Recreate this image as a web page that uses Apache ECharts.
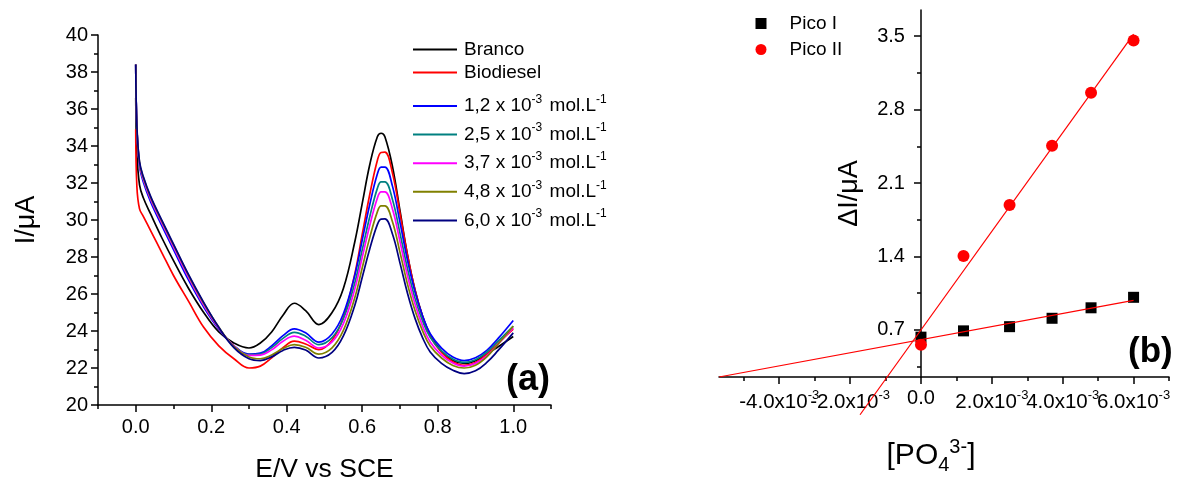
<!DOCTYPE html>
<html>
<head>
<meta charset="utf-8">
<script src="https://cdn.jsdelivr.net/npm/echarts@6/dist/echarts.min.js"></script>
<style>html,body{margin:0;padding:0;background:#fff}#c{width:1177px;height:478px}</style>
</head>
<body>
<div id="c"></div>
<script>
// ---------- panel (a): voltammograms ----------
const potentials = [0, 0.003, 0.01, 0.02, 0.04, 0.07, 0.1, 0.14, 0.18, 0.22, 0.26, 0.3, 0.33, 0.36, 0.39, 0.42, 0.45, 0.485, 0.52, 0.55, 0.58, 0.6, 0.62, 0.64, 0.65, 0.66, 0.68, 0.7, 0.72, 0.74, 0.76, 0.78, 0.81, 0.84, 0.87, 0.9, 0.93, 0.96, 1.0];
const branco = [36.6, 33.6, 31.9, 31.2, 30.3, 29.0, 27.8, 26.3, 25.0, 23.95, 23.35, 23.08, 23.35, 23.95, 24.85, 25.5, 25.1, 24.35, 25.0, 26.3, 28.8, 30.9, 33.0, 34.5, 34.69, 34.5, 32.9, 30.5, 28.1, 26.2, 24.8, 23.8, 22.9, 22.4, 22.25, 22.4, 22.75, 23.15, 23.7];
const biodiesel = [34.9, 31.8, 30.6, 30.2, 29.4, 28.2, 27.0, 25.6, 24.2, 23.2, 22.5, 22.0, 22.1, 22.55, 23.1, 23.45, 23.3, 22.99, 23.5, 24.74, 27.06, 29.23, 31.39, 33.22, 33.65, 33.67, 32.54, 30.36, 28.08, 26.19, 24.75, 23.71, 22.84, 22.34, 22.15, 22.3, 22.75, 23.35, 24.1];
const conc12 = [38.4, 35.0, 32.9, 32.05, 30.95, 29.65, 28.4, 26.75, 25.3, 24.1, 23.2, 22.75, 22.8, 23.2, 23.75, 24.12, 23.9, 23.4, 23.84, 24.93, 26.99, 28.92, 30.85, 32.48, 32.86, 32.86, 31.83, 29.87, 27.81, 26.1, 24.8, 23.85, 23.07, 22.59, 22.4, 22.55, 22.95, 23.6, 24.57];
const conc25 = [38.4, 35.0, 33.0, 32.2, 31.1, 29.8, 28.55, 26.9, 25.4, 24.15, 23.2, 22.72, 22.75, 23.1, 23.6, 23.93, 23.72, 23.26, 23.64, 24.66, 26.58, 28.39, 30.19, 31.71, 32.06, 32.06, 31.11, 29.28, 27.35, 25.75, 24.53, 23.66, 22.92, 22.48, 22.3, 22.45, 22.85, 23.45, 24.26];
const conc37 = [38.4, 35.0, 33.0, 32.2, 31.1, 29.8, 28.55, 26.9, 25.4, 24.15, 23.2, 22.68, 22.7, 22.98, 23.45, 23.72, 23.5, 23.08, 23.41, 24.4, 26.25, 27.99, 29.72, 31.18, 31.52, 31.52, 30.6, 28.83, 26.98, 25.44, 24.26, 23.41, 22.7, 22.27, 22.1, 22.25, 22.65, 23.3, 24.17];
const conc48 = [38.4, 35.0, 33.1, 32.3, 31.2, 29.9, 28.65, 27.0, 25.5, 24.2, 23.15, 22.6, 22.5, 22.7, 23.05, 23.26, 23.12, 22.75, 23.09, 24.03, 25.78, 27.42, 29.06, 30.44, 30.76, 30.76, 29.91, 28.25, 26.52, 25.09, 23.99, 23.19, 22.54, 22.14, 22.0, 22.15, 22.6, 23.3, 24.26];
const conc60 = [38.4, 35.1, 33.15, 32.35, 31.25, 29.95, 28.7, 27.05, 25.55, 24.2, 23.1, 22.5, 22.4, 22.6, 22.95, 23.12, 22.97, 22.54, 22.84, 23.73, 25.37, 26.91, 28.45, 29.75, 30.05, 30.06, 29.24, 27.67, 26.03, 24.67, 23.63, 22.87, 22.25, 21.88, 21.7, 21.85, 22.3, 22.95, 23.9];
const curveNames = ['Branco', 'Biodiesel', '1,2 x 10-3 mol.L-1', '2,5 x 10-3 mol.L-1', '3,7 x 10-3 mol.L-1', '4,8 x 10-3 mol.L-1', '6,0 x 10-3 mol.L-1'];
const curveColors = ['#000000', '#ff0000', '#0000ff', '#008080', '#ff00ff', '#808000', '#000080'];
const curves = [branco, biodiesel, conc12, conc25, conc37, conc48, conc60];
const voltMajor = [0, 0.2, 0.4, 0.6, 0.8, 1.0];
const voltMinor = [-0.1, 0.1, 0.3, 0.5, 0.7, 0.9, 1.1];

// ---------- panel (b): calibration ----------
const concentrations = [0, 0.0012, 0.0025, 0.0037, 0.0048, 0.006];
const picoI = [0.63, 0.69, 0.73, 0.81, 0.91, 1.01];
const picoII = [0.557, 1.405, 1.89, 2.455, 2.96, 3.46];
const fitIx = [-0.0057, 0.006];
const fitIy = [0.25, 0.98];
const fitIIx = [-0.00172, 0.006];
const fitIIy = [-0.11, 3.52];
const concMin = -0.0057, concMax = 0.007;
const concMajor = [-0.004, -0.002, 0, 0.002, 0.004, 0.006];
const concMinor = [-0.005, -0.003, -0.001, 0.001, 0.003, 0.005, 0.007];
const dIMajor = [0.7, 1.4, 2.1, 2.8, 3.5];
const dIMinor = [0.35, 1.05, 1.75, 2.45, 3.15];

const FONT = '"Liberation Sans", Arial, sans-serif';
const AX = { color: '#000', width: 1.5 };
const G2 = { left: 719, top: 10, width: 450, height: 367 };
// the y axis of panel (b) crosses the x axis at 0
const yOffsetB = -G2.width * (0 - concMin) / (concMax - concMin);

const chart = echarts.init(document.getElementById('c'), null, { renderer: 'canvas' });

const series = [];
curves.forEach((arr, k) => {
  series.push({
    name: curveNames[k], type: 'line', xAxisIndex: 0, yAxisIndex: 0,
    data: potentials.map((x, i) => [x, arr[i]]),
    smooth: 0.4, symbol: 'none',
    lineStyle: { color: curveColors[k], width: 1.7 }, itemStyle: { color: curveColors[k] },
    silent: true, animation: false
  });
});
series.push({
  name: 'fitI', type: 'line', xAxisIndex: 2, yAxisIndex: 1,
  data: fitIx.map((x, i) => [x, fitIy[i]]), symbol: 'none',
  lineStyle: { color: '#ff0000', width: 1.2 }, animation: false, silent: true
});
series.push({
  name: 'fitII', type: 'line', xAxisIndex: 2, yAxisIndex: 1, clip: false,
  data: fitIIx.map((x, i) => [x, fitIIy[i]]), symbol: 'none',
  lineStyle: { color: '#ff0000', width: 1.2 }, animation: false, silent: true
});
series.push({
  name: 'Pico I', type: 'scatter', xAxisIndex: 2, yAxisIndex: 1,
  data: concentrations.map((x, i) => [x, picoI[i]]),
  symbol: 'rect', symbolSize: 11, itemStyle: { color: '#000', opacity: 1 }, animation: false
});
series.push({
  name: 'Pico II', type: 'scatter', xAxisIndex: 2, yAxisIndex: 1,
  data: concentrations.map((x, i) => [x, picoII[i]]),
  symbol: 'circle', symbolSize: 12, itemStyle: { color: '#ff0000', opacity: 1 }, animation: false
});

function concLegend(name) {
  const m = name.match(/^(.*) x 10-3 mol\.L-1$/);
  if (!m) return '{n|' + name + '}';
  return '{n|' + m[1] + ' x 10}{s|-3}{n| mol.L}{s|-1}';
}
const legendRich = {
  n: { fontSize: 19, fontFamily: FONT, color: '#000', lineHeight: 19, padding: [0, 0, 0, 2] },
  s: { fontSize: 12, fontFamily: FONT, color: '#000', lineHeight: 12, verticalAlign: 'top' }
};
const legendRich2 = {
  n: { fontSize: 19, fontFamily: FONT, color: '#000', lineHeight: 25, padding: [0, 0, 0, 2] },
  s: { fontSize: 12, fontFamily: FONT, color: '#000', lineHeight: 12, verticalAlign: 'top' }
};

function concLabel(v) {
  if (Math.abs(v - concMin) < 1e-9 || Math.abs(v - concMax) < 1e-9) return '';
  if (Math.abs(v) < 1e-9) return '{z|0.0}';
  return '{m|' + (v * 1000).toFixed(1) + 'x10}{s|-3}';
}

const option = {
  backgroundColor: '#fff',
  animation: false,
  grid: [
    { left: 98, top: 35, width: 453, height: 370, outerBoundsMode: 'none', containLabel: false },
    Object.assign({ outerBoundsMode: 'none', containLabel: false }, G2)
  ],
  legend: [
    {
      data: curveNames.slice(0, 2), orient: 'vertical', left: 413, top: 40, padding: 0,
      icon: 'rect', itemWidth: 44, itemHeight: 2, itemGap: 4, selectedMode: false,
      formatter: concLegend, textStyle: { rich: legendRich }
    },
    {
      data: curveNames.slice(2), orient: 'vertical', left: 413, top: 93.5, padding: 0,
      icon: 'rect', itemWidth: 44, itemHeight: 2, itemGap: 6.6, selectedMode: false,
      formatter: concLegend, textStyle: { rich: legendRich2 }
    },
    {
      data: ['Pico I', 'Pico II'], orient: 'vertical', left: 755.5, top: 14, padding: 0,
      itemWidth: 11, itemHeight: 11, itemGap: 7, selectedMode: false,
      formatter: n => '{p|' + n + '}',
      textStyle: { rich: { p: { fontSize: 19, fontFamily: FONT, color: '#000', lineHeight: 20, padding: [0, 0, 0, 18] } } }
    }
  ],
  xAxis: [
    {
      type: 'value', gridIndex: 0, min: -0.1, max: 1.1, position: 'bottom',
      axisLine: { show: true, onZero: false, lineStyle: AX },
      axisTick: { show: true, customValues: voltMajor, length: 7, lineStyle: AX },
      axisLabel: { customValues: voltMajor, formatter: v => v.toFixed(1), fontSize: 20, fontFamily: FONT, color: '#000', margin: 12, showMinLabel: true, showMaxLabel: true },
      splitLine: { show: false },
      name: 'E/V vs SCE', nameLocation: 'middle', nameGap: 51,
      nameTextStyle: { fontSize: 26.5, fontFamily: FONT, color: '#000' }
    },
    {
      type: 'value', gridIndex: 0, min: -0.1, max: 1.1, position: 'bottom',
      axisLine: { show: false, onZero: false },
      axisTick: { show: true, customValues: voltMinor, length: 4, lineStyle: AX },
      axisLabel: { show: false }, splitLine: { show: false }
    },
    {
      // panel (b) x axis: line, labels and name
      type: 'value', gridIndex: 1, min: concMin, max: concMax, position: 'bottom',
      axisLine: { show: true, onZero: false, lineStyle: AX },
      axisTick: { show: false },
      axisLabel: {
        customValues: [concMin].concat(concMajor, [concMax]), margin: 12,
        showMinLabel: false, showMaxLabel: false,
        formatter: concLabel,
        rich: {
          z: { fontSize: 20, fontFamily: FONT, color: '#000', lineHeight: 19 },
          m: { fontSize: 20.5, fontFamily: FONT, color: '#000', lineHeight: 27 },
          s: { fontSize: 13, fontFamily: FONT, color: '#000', lineHeight: 13, verticalAlign: 'top' }
        }
      },
      splitLine: { show: false },
      name: '[PO{sub|4}{sup|3-}]', nameLocation: 'middle', nameGap: 60,
      nameTextStyle: {
        rich: {
          sub: { fontSize: 20, fontFamily: FONT, color: '#000', lineHeight: 20, verticalAlign: 'bottom' },
          sup: { fontSize: 20, fontFamily: FONT, color: '#000', lineHeight: 20, verticalAlign: 'top' }
        },
        fontSize: 30, fontFamily: FONT, color: '#000', lineHeight: 38, padding: [0, 26, 0, 0]
      }
    },
    {
      // panel (b) x axis: minor ticks
      type: 'value', gridIndex: 1, min: concMin, max: concMax, position: 'bottom',
      axisLine: { show: false, onZero: false },
      axisTick: { show: true, customValues: concMinor, length: 4, lineStyle: AX },
      axisLabel: { show: false }, splitLine: { show: false }
    },
    {
      // panel (b) x axis: major ticks
      type: 'value', gridIndex: 1, min: concMin, max: concMax, position: 'bottom',
      axisLine: { show: false, onZero: false },
      axisTick: { show: true, customValues: concMajor, length: 7, lineStyle: AX },
      axisLabel: { show: false }, splitLine: { show: false }
    }
  ],
  yAxis: [
    {
      type: 'value', gridIndex: 0, min: 20, max: 40, interval: 2, position: 'left',
      axisLine: { show: true, onZero: false, lineStyle: AX },
      axisTick: { show: true, length: 7, lineStyle: AX },
      minorTick: { show: true, splitNumber: 2, length: 4, lineStyle: AX },
      axisLabel: { fontSize: 20, fontFamily: FONT, color: '#000', margin: 10 },
      splitLine: { show: false }, minorSplitLine: { show: false },
      name: 'I/μA', nameLocation: 'middle', nameGap: 58, nameRotate: 90,
      nameTextStyle: { fontSize: 27, fontFamily: FONT, color: '#000' }
    },
    {
      type: 'value', gridIndex: 1, min: 0.25, max: 3.75, position: 'left', offset: yOffsetB,
      axisLine: { show: true, onZero: false, lineStyle: AX },
      axisTick: { show: true, customValues: dIMajor, length: 7, lineStyle: AX },
      axisLabel: { customValues: dIMajor, formatter: v => v.toFixed(1), fontSize: 20, fontFamily: FONT, color: '#000', margin: 16, showMinLabel: true, showMaxLabel: true },
      splitLine: { show: false },
      name: 'ΔI/μA', nameLocation: 'middle', nameGap: 58, nameRotate: 90,
      nameTextStyle: { fontSize: 27, fontFamily: FONT, color: '#000' }
    },
    {
      type: 'value', gridIndex: 1, min: 0.25, max: 3.75, position: 'left', offset: yOffsetB,
      axisLine: { show: false, onZero: false },
      axisTick: { show: true, customValues: dIMinor, length: 4, lineStyle: AX },
      axisLabel: { show: false }, splitLine: { show: false }
    }
  ],
  graphic: [
    { type: 'text', left: 506, top: 362, style: { text: '(a)', font: 'bold 36px ' + FONT, fill: '#000' } },
    { type: 'text', left: 1128, top: 335, style: { text: '(b)', font: 'bold 35px ' + FONT, fill: '#000' } }
  ],
  series: series
};
chart.setOption(option);
</script>
</body>
</html>
